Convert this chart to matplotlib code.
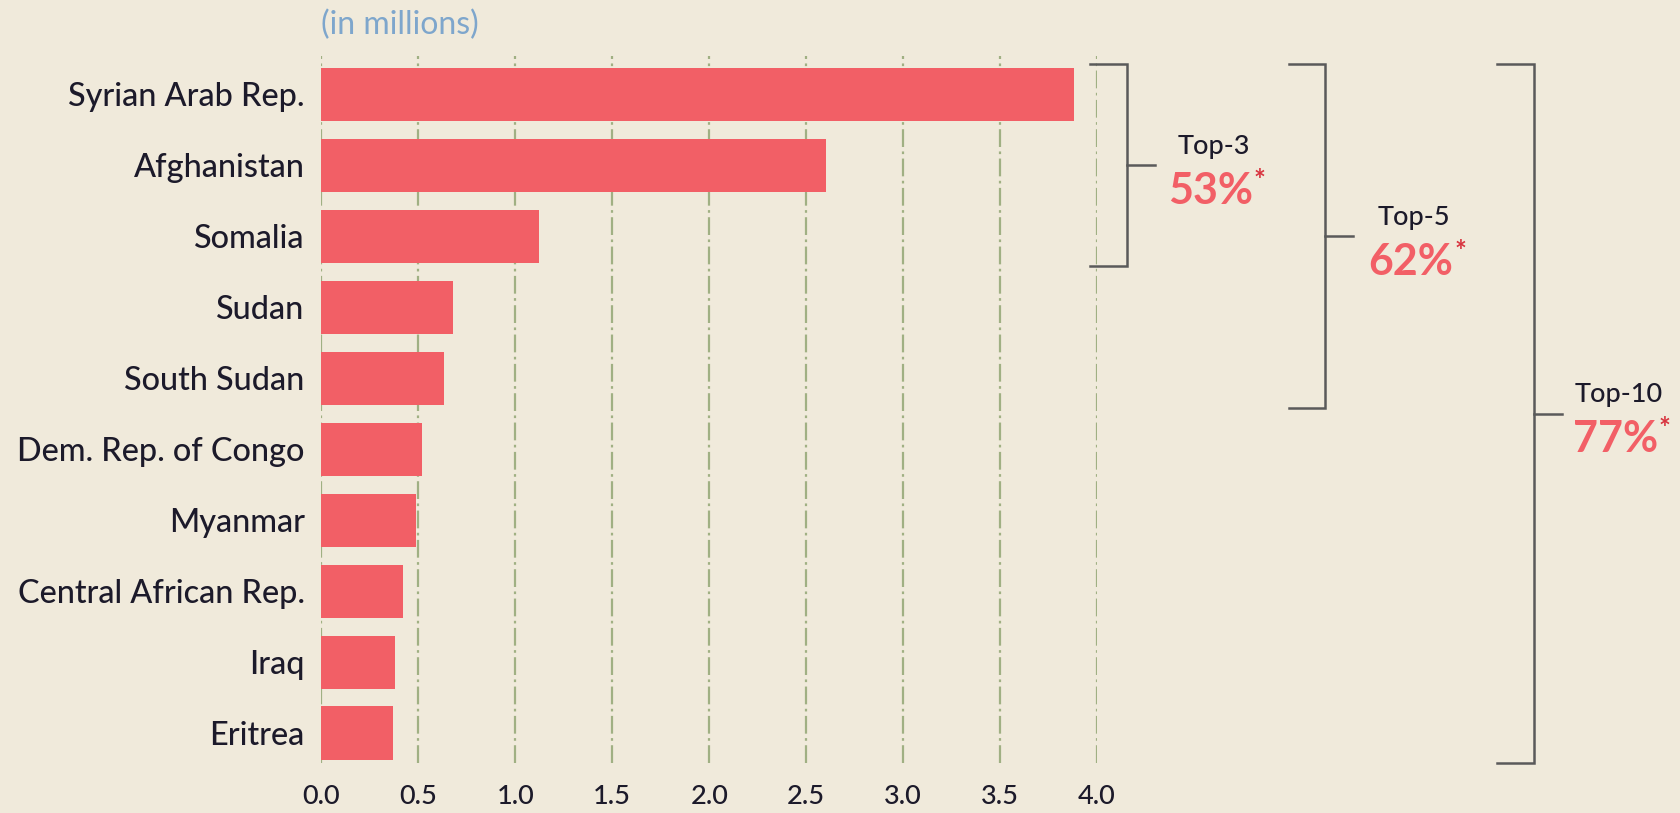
import matplotlib
matplotlib.use("Agg")
import matplotlib.pyplot as plt
import matplotlib.transforms as mtransforms

plt.rcParams['font.family'] = ['Lato', 'DejaVu Sans']

# refugees by country of origin, millions
countries = ["Syrian Arab Rep.", "Afghanistan", "Somalia", "Sudan", "South Sudan",
             "Dem. Rep. of Congo", "Myanmar", "Central African Rep.", "Iraq", "Eritrea"]
refugees = [3.88, 2.60, 1.12, 0.68, 0.63, 0.52, 0.49, 0.42, 0.38, 0.37]
xticks = [0.0, 0.5, 1.0, 1.5, 2.0, 2.5, 3.0, 3.5, 4.0]

# share of all refugees covered by the top-n groups
groups = [3, 5, 10]
shares = ["53%", "62%", "77%"]

BG = "#f0eadb"
BAR = "#f25f66"
GRID = "#a0b083"
INK = "#1c1a2a"
BRACKET = "#5a5a5a"

fig = plt.figure(figsize=(16.8, 8.13), dpi=100, facecolor=BG)
ax = fig.add_axes([0.1913, 0.0616, 0.4617, 0.8699])
ax.set_facecolor(BG)

ypos = list(range(len(countries)))
ax.barh(ypos, refugees, height=0.75, color=BAR, zorder=3)

ax.set_xlim(0, 4.0)
ax.set_ylim(9.42, -0.544)
ax.set_xticks(xticks)
ax.set_xticklabels([f"{t:.1f}" for t in xticks], fontsize=19.5, color=INK,
                   fontweight='medium')
ax.set_yticks(ypos)
ax.set_yticklabels(countries, fontsize=23.3, color=INK, fontweight='medium')
ax.tick_params(axis='both', length=0)
ax.tick_params(axis='x', pad=15)
ax.tick_params(axis='y', pad=12)
for s in ax.spines.values():
    s.set_visible(False)
for t in xticks:
    ax.axvline(t, color=GRID, lw=1.6, ls=(0, (8, 2, 1.2, 2)), zorder=1)

ax.text(0.0, 1.022, "(in millions)", transform=ax.transAxes, ha='left', va='bottom',
        fontsize=23, color="#7ea6cc")

# brackets to the right of the bars
trans = mtransforms.blended_transform_factory(ax.transAxes, ax.transData)
arm_left = [0.991, 1.248, 1.516]
arm_right = [1.039, 1.294, 1.563]
stub_len = 0.036
label_x = [1.150, 1.409, 1.672]
pad = 0.045
pct_texts = []
for n, share, xl, xr, tx in zip(groups, shares, arm_left, arm_right, label_x):
    top = -0.375 - pad
    bottom = (n - 1) + 0.375 + pad
    mid = (top + bottom) / 2
    ax.plot([xl, xr, xr, xl], [top, top, bottom, bottom], color=BRACKET, lw=1.8,
            transform=trans, clip_on=False, solid_joinstyle='miter')
    ax.plot([xr, xr + stub_len], [mid, mid], color=BRACKET, lw=1.8,
            transform=trans, clip_on=False)
    ax.text(tx, mid - 0.27, f"Top-{n}", transform=trans, ha='center', va='center',
            fontsize=19.5, color=INK, fontweight='medium')
    pt = ax.text(tx - 0.004, mid + 0.36, share, transform=trans, ha='center', va='center',
                 fontsize=31, fontweight='bold', color=BAR)
    pct_texts.append(pt)

# little asterisk after each percentage
fig.canvas.draw()
renderer = fig.canvas.get_renderer()
for pt in pct_texts:
    bb = pt.get_window_extent(renderer)
    fig.text((bb.x1 + 1) / fig.bbox.width, (bb.y1 - 10) / fig.bbox.height, "*",
             ha='left', va='center', fontsize=20, fontweight='bold', color="#d8343f")

fig.savefig("out.png", dpi=100, facecolor=BG)
